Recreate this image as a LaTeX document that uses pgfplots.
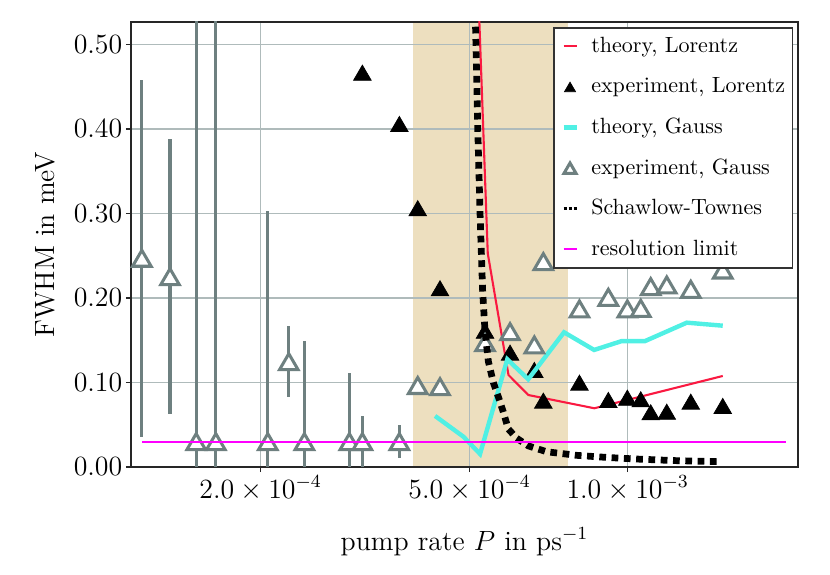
\documentclass[border=0pt]{standalone}
\usepackage{pgfplots}
\pgfplotsset{compat=1.18}
\definecolor{redL}{RGB}{250,25,65}
\definecolor{cyanG}{RGB}{80,240,228}
\definecolor{grayT}{RGB}{110,128,128}
\definecolor{tanS}{RGB}{237,223,191}
\definecolor{gridC}{RGB}{175,187,187}
\definecolor{magL}{RGB}{255,0,255}
\pgfdeclareplotmark{mtri}{%
  \pgfpathmoveto{\pgfqpoint{0pt}{0.86\pgfplotmarksize}}%
  \pgfpathlineto{\pgfqpoint{-\pgfplotmarksize}{-0.86\pgfplotmarksize}}%
  \pgfpathlineto{\pgfqpoint{\pgfplotmarksize}{-0.86\pgfplotmarksize}}%
  \pgfpathclose
  \pgfusepathqfillstroke}
\pgfplotsset{
  shortline/.style={legend image code/.code={\draw[##1] (0pt,0pt) -- (5.6pt,0pt);}},
  smallmark/.style={legend image code/.code={\draw[##1, mark size=#1] plot coordinates {(2.8pt,0pt)};}},
  stlegend/.style={legend image code/.code={\draw[black, line width=1.4pt, line cap=butt, dash pattern=on 1.3pt off 0.9pt] (0pt,0pt) -- (5.7pt,0pt);}},
}
\begin{document}
\begin{tikzpicture}
\begin{axis}[
  set layers, clip mode=individual,
  scale only axis, width=287.5pt, height=191.8pt,
  at={(0pt,0pt)}, anchor=south west,
  xmode=log, xmin=1.1325e-4, xmax=2.110e-3,
  ymin=0, ymax=0.5266,
  xtick={2e-4,5e-4,1e-3},
  xticklabels={$2.0\times10^{-4}$,$5.0\times10^{-4}$,$1.0\times10^{-3}$},
  ytick={0,0.1,0.2,0.3,0.4,0.5},
  yticklabels={$0.00$,$0.10$,$0.20$,$0.30$,$0.40$,$0.50$},
  xminorticks=false, yminorticks=false,
  grid=major, major grid style={line width=0.5pt, draw=gridC},
  axis line style={line width=0.7pt, black!85},
  tick style={line width=0.6pt, black!85},
  tick align=outside, tick pos=left, major tick length=2.2pt,
  tick label style={font=\fontsize{12}{14}\selectfont},
  label style={font=\fontsize{12}{14}\selectfont},
  xticklabel style={anchor=base, yshift=-11.2pt},
  yticklabel style={inner xsep=1.4pt},
  xlabel={pump rate $P$ in ps$^{-1}$},
  ylabel={FWHM in meV},
  xlabel style={at={(axis description cs:0.5,0)}, anchor=base, yshift=-35.8pt},
  ylabel style={at={(axis description cs:-0.1141,0.5)}, anchor=base},
  legend cell align=left,
  legend style={at={(1,1)}, anchor=north east, xshift=-2pt, yshift=-2.2pt,
    draw=black!80, line width=0.7pt, fill=white,
    font=\fontsize{9.5}{11}\selectfont,
    inner xsep=3.2pt, inner ysep=3.4pt, row sep=8.4pt, column sep=5.4pt,
    nodes={inner sep=0pt, text height=7.1pt, text depth=2pt}},
]
% shaded region
\addplot[on layer=axis background, fill=tanS, draw=none, forget plot]
  coordinates {(3.895e-4,0) (3.895e-4,0.5266) (7.685e-4,0.5266) (7.685e-4,0)} -- cycle;

% theory, Lorentz
\addplot[redL, line width=0.9pt, mark=none, shortline]
  coordinates {(5.194e-4,0.56) (5.413e-4,0.2528) (5.928e-4,0.1089)
    (6.465e-4,0.0852) (8.637e-4,0.0695) (1.5168e-3,0.1077)};
\addlegendentry{theory, Lorentz}

% experiment, Lorentz
\addplot[only marks, mark=mtri, mark size=3.8pt,
  mark options={fill=black, draw=black, line width=0.3pt}, smallmark=2.4pt]
  table[row sep=\\] {
x y\\
3.1238e-4 0.4666\\
3.6739e-4 0.4059\\
3.9824e-4 0.3062\\
4.3904e-4 0.2115\\
5.3487e-4 0.1613\\
5.9689e-4 0.1353\\
6.6394e-4 0.1148\\
6.9069e-4 0.0785\\
8.0915e-4 0.0998\\
9.1844e-4 0.0793\\
9.9825e-4 0.0820\\
1.0587e-3 0.0801\\
1.1060e-3 0.0647\\
1.1866e-3 0.0654\\
1.3184e-3 0.0773\\
1.5168e-3 0.0722\\
};
\addlegendentry{experiment, Lorentz}

% theory, Gauss
\addplot[cyanG, line width=1.9pt, mark=none, shortline]
  coordinates {(4.296e-4,0.0604) (4.864e-4,0.0359) (5.233e-4,0.0154)
    (5.897e-4,0.1274) (6.465e-4,0.1038) (7.563e-4,0.1594) (8.630e-4,0.1385)
    (9.740e-4,0.1490) (1.0787e-3,0.1490) (1.2957e-3,0.1708) (1.5168e-3,0.1672)};
\addlegendentry{theory, Gauss}

% experiment, Gauss
\addplot[only marks, mark=mtri, mark size=4.0pt,
  mark options={fill=white, draw=grayT, line width=1.3pt}, smallmark=2.6pt,
  error bars/.cd, y dir=both, y explicit,
  error bar style={line width=1.4pt, grayT}, error mark=none]
  table[row sep=\\, x=x, y=y, y error=e] {
x y e\\
1.1877e-4 0.2470 0.211\\
1.3438e-4 0.2252 0.163\\
1.5072e-4 0.0300 0.6\\
1.6430e-4 0.0300 0.6\\
2.0632e-4 0.0300 0.273\\
2.2622e-4 0.1246 0.042\\
2.4220e-4 0.0300 0.119\\
2.9507e-4 0.0300 0.081\\
3.1238e-4 0.0300 0.0305\\
3.6739e-4 0.0300 0.0197\\
3.9824e-4 0.0964 0\\
4.3904e-4 0.0950 0\\
5.3487e-4 0.1471 0\\
5.9689e-4 0.1601 0\\
6.6394e-4 0.1444 0\\
6.9069e-4 0.2430 0\\
8.0915e-4 0.1870 0\\
9.1844e-4 0.2008 0\\
9.9825e-4 0.1870 0\\
1.0587e-3 0.1878 0\\
1.1060e-3 0.2134 0\\
1.1866e-3 0.2154 0\\
1.3184e-3 0.2103 0\\
1.5168e-3 0.2331 0\\
};
\addlegendentry{experiment, Gauss}

% Schawlow-Townes
\addplot[black, line width=2.9pt, line cap=butt, line join=round,
  dash pattern=on 2.9pt off 2.4pt, mark=none, stlegend]
  coordinates {(5.131e-4,0.521) (5.181e-4,0.400) (5.233e-4,0.300) (5.291e-4,0.210)
    (5.349e-4,0.160) (5.427e-4,0.125) (5.547e-4,0.100) (5.670e-4,0.083)
    (5.795e-4,0.065) (5.923e-4,0.045) (6.146e-4,0.034) (6.465e-4,0.025)
    (7.010e-4,0.018) (7.997e-4,0.0138) (9.120e-4,0.0113) (1.0403e-3,0.0094)
    (1.2214e-3,0.0076) (1.5102e-3,0.0062)};
\addlegendentry{Schawlow-Townes}

% resolution limit
\addplot[magL, line width=0.9pt, mark=none, shortline]
  coordinates {(1.19e-4,0.03) (2.0e-3,0.03)};
\addlegendentry{resolution limit}
\end{axis}
\pgfresetboundingbox
\path[use as bounding box] (-56.47pt,-46.55pt) rectangle (301.29pt,201.29pt);
\end{tikzpicture}
\end{document}
